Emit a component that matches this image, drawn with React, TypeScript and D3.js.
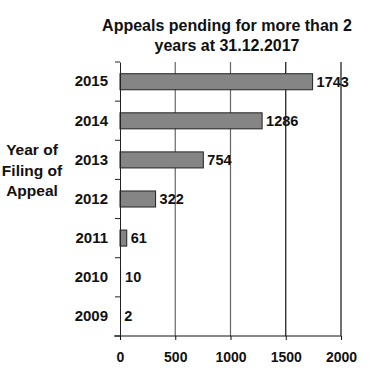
import React, { useEffect, useRef } from 'react';
import * as d3 from 'd3';

// Appeals pending for more than 2 years, by year of filing
const years = ['2015', '2014', '2013', '2012', '2011', '2010', '2009'];
const pending = [1743, 1286, 754, 322, 61, 10, 2];
const xTicks = [0, 500, 1000, 1500, 2000];
const titleLines = ['Appeals pending for more than 2', 'years at 31.12.2017'];
const yTitleLines = ['Year of', 'Filing of', 'Appeal'];

const App = () => {
    const svgRef = useRef<SVGSVGElement>(null);

    useEffect(() => {
        const width = 374;
        const height = 382;
        const font = '"Liberation Sans", Arial, sans-serif';

        const svg = d3.select(svgRef.current)
            .attr('width', width)
            .attr('height', height)
            .style('display', 'block')
            .style('font-family', font);
        svg.selectAll('*').remove();

        const margin = { top: 62, left: 120, right: 33, bottom: 46 };
        const innerW = width - margin.left - margin.right;
        const innerH = height - margin.top - margin.bottom;

        const x = d3.scaleLinear().domain([0, 2000]).range([0, innerW]);
        const y = d3.scaleBand().domain(years).range([0, innerH]).paddingInner(0.59).paddingOuter(0.3);
        const yb = d3.scaleBand().domain(years).range([0, innerH]);

        const g = svg.append('g').attr('transform', `translate(${margin.left},${margin.top})`);

        // gridlines
        g.selectAll('line.grid')
            .data(xTicks.filter(d => d > 0))
            .enter()
            .append('line')
            .attr('x1', d => x(d))
            .attr('x2', d => x(d))
            .attr('y1', 0)
            .attr('y2', innerH)
            .attr('stroke', d => (d >= 1500 ? '#111' : '#666'))
            .attr('stroke-width', 1.2);

        // bars
        g.selectAll('rect.bar')
            .data(pending)
            .enter()
            .append('rect')
            .attr('x', 0)
            .attr('y', (_, i) => y(years[i])!)
            .attr('width', d => x(d))
            .attr('height', y.bandwidth())
            .attr('fill', '#858585')
            .attr('stroke', d => (x(d) < 3 ? 'none' : '#222'))
            .attr('stroke-width', 1);

        // value labels
        g.selectAll('text.val')
            .data(pending)
            .enter()
            .append('text')
            .attr('x', d => x(d) + 4)
            .attr('y', (_, i) => y(years[i])! + y.bandwidth() / 2)
            .attr('dy', '0.36em')
            .attr('font-size', 14.5)
            .attr('font-weight', 'bold')
            .attr('fill', '#111')
            .text(d => d);

        // left axis
        const yAxis = d3.axisLeft(yb).tickSize(0).tickPadding(12);
        const ya = g.append('g').call(yAxis);
        ya.select('.domain').attr('stroke', '#222');
        ya.selectAll('text')
            .attr('font-size', 15)
            .attr('font-weight', 'bold')
            .attr('font-family', font)
            .attr('fill', '#111');
        g.selectAll('line.ytick')
            .data(d3.range(years.length + 1))
            .enter()
            .append('line')
            .attr('x1', -5)
            .attr('x2', 0)
            .attr('y1', i => i * yb.step())
            .attr('y2', i => i * yb.step())
            .attr('stroke', '#222');

        // bottom axis
        const xAxis = d3.axisBottom(x).tickValues(xTicks).tickFormat(d3.format('d')).tickSize(4).tickPadding(12);
        const xa = g.append('g').attr('transform', `translate(0,${innerH})`).call(xAxis);
        xa.select('.domain').remove();
        xa.append('line').attr('x1', -6).attr('x2', innerW).attr('stroke', '#111').attr('stroke-width', 1.2);
        xa.selectAll('line').attr('stroke', '#111');
        xa.selectAll('text')
            .attr('font-size', 14)
            .attr('font-weight', 'bold')
            .attr('font-family', font)
            .attr('fill', '#111');

        // title
        svg.append('g')
            .selectAll('text')
            .data(titleLines)
            .enter()
            .append('text')
            .attr('x', 227)
            .attr('y', (_, i) => 31 + i * 19.5)
            .attr('text-anchor', 'middle')
            .attr('font-size', 16)
            .attr('font-weight', 'bold')
            .attr('fill', '#111')
            .text(d => d);

        // y axis title
        svg.append('g')
            .selectAll('text')
            .data(yTitleLines)
            .enter()
            .append('text')
            .attr('x', 32)
            .attr('y', (_, i) => 155 + i * 20.5)
            .attr('text-anchor', 'middle')
            .attr('font-size', 15.5)
            .attr('font-weight', 'bold')
            .attr('fill', '#111')
            .text(d => d);
    }, []);

    return (
        <div style={{ position: 'absolute', left: 0, top: 0, background: '#fff' }}>
            <svg ref={svgRef}></svg>
        </div>
    );
};

export default App;
